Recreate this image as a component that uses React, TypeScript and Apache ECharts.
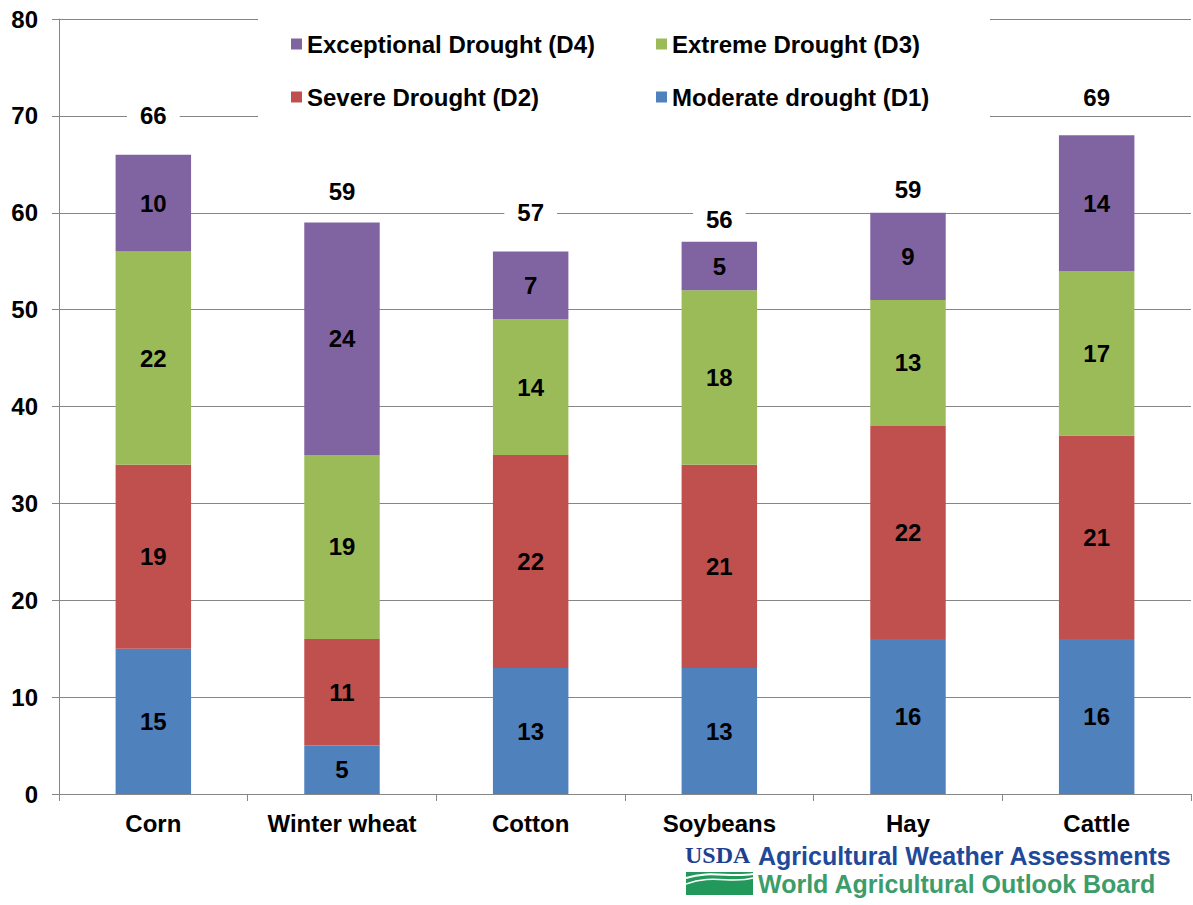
import React, { useEffect, useRef } from "react";
import * as echarts from "echarts";

const categories = ["Corn", "Winter wheat", "Cotton", "Soybeans", "Hay", "Cattle"];
const moderateD1 = [15, 5, 13, 13, 16, 16];
const severeD2 = [19, 11, 22, 21, 22, 21];
const extremeD3 = [22, 19, 14, 18, 13, 17];
const exceptionalD4 = [10, 24, 7, 5, 9, 14];
const totals = [66, 59, 57, 56, 59, 69];
const totalLabelLevel = [70, 62.2, 60, 59.3, 62.4, 71.9];

const seriesNames = {
  d1: "Moderate drought (D1)",
  d2: "Severe Drought (D2)",
  d3: "Extreme Drought (D3)",
  d4: "Exceptional Drought (D4)",
};

const FONT = 'Arial, "Liberation Sans", Helvetica, sans-serif';

export default function App() {
  const ref = useRef<HTMLDivElement>(null);

  useEffect(() => {
    if (!ref.current) return;
    const chart = echarts.init(ref.current, undefined, { renderer: "svg" });

    const segLabel = {
      show: true,
      position: "inside",
      fontFamily: FONT,
      fontSize: 24,
      fontWeight: "bold",
      color: "#000",
      textBorderWidth: 0,
    };

    const mkBar = (name: string, data: number[], color: string) => ({
      name,
      type: "bar",
      stack: "total",
      data,
      barWidth: "40%",
      itemStyle: { color },
      label: segLabel,
    });

    const legendText = {
      fontFamily: FONT,
      fontSize: 24,
      fontWeight: "bold",
      color: "#000",
    };

    const option: any = {
      animation: false,
      backgroundColor: "#ffffff",
      grid: { left: 59, right: 2, top: 19, bottom: 111, containLabel: false },
      xAxis: {
        type: "category",
        data: categories,
        boundaryGap: true,
        axisLine: { show: true, lineStyle: { color: "#868686", width: 1 } },
        axisTick: { show: true, length: 7, alignWithLabel: false, lineStyle: { color: "#868686" } },
        axisLabel: {
          interval: 0,
          margin: 17,
          fontFamily: FONT,
          fontSize: 24,
          fontWeight: "bold",
          color: "#000",
        },
      },
      yAxis: {
        type: "value",
        min: 0,
        max: 80,
        interval: 10,
        axisLine: { show: true, lineStyle: { color: "#868686", width: 1 } },
        axisTick: { show: true, length: 7, inside: false, lineStyle: { color: "#868686" } },
        axisLabel: {
          margin: 21,
          fontFamily: FONT,
          fontSize: 24,
          fontWeight: "bold",
          color: "#000",
        },
        splitLine: { show: true, lineStyle: { color: "#868686", width: 1 } },
      },
      legend: [
        {
          orient: "vertical",
          left: 291,
          top: 32,
          padding: 0,
          itemWidth: 11,
          itemHeight: 11,
          itemGap: 29,
          icon: "rect",
          data: [seriesNames.d4, seriesNames.d2],
          textStyle: legendText,
        },
        {
          orient: "vertical",
          left: 656,
          top: 32,
          padding: 0,
          itemWidth: 11,
          itemHeight: 11,
          itemGap: 29,
          icon: "rect",
          data: [seriesNames.d3, seriesNames.d1],
          textStyle: legendText,
        },
      ],
      graphic: [
        {
          type: "rect",
          z: 3,
          shape: { x: 258, y: 0, width: 732, height: 126 },
          style: { fill: "#ffffff" },
          silent: true,
        },
        {
          type: "text",
          z: 5,
          left: 685,
          top: 843,
          style: {
            text: "USDA",
            fontFamily: '"Liberation Serif", "Times New Roman", serif',
            fontSize: 24,
            fontWeight: "bold",
            fill: "#1F3F8F",
          },
        },
        {
          type: "group",
          z: 5,
          children: [
            {
              type: "rect",
              shape: { x: 686, y: 872, width: 67, height: 23 },
              style: { fill: "#22985A" },
            },
            {
              type: "bezierCurve",
              shape: { x1: 686, y1: 878, x2: 753, y2: 874, cpx1: 710, cpy1: 870, cpx2: 730, cpy2: 878 },
              style: { stroke: "#ffffff", lineWidth: 2, fill: "none" },
            },
            {
              type: "bezierCurve",
              shape: { x1: 686, y1: 884, x2: 753, y2: 878, cpx1: 712, cpy1: 874, cpx2: 732, cpy2: 884 },
              style: { stroke: "#ffffff", lineWidth: 1.5, fill: "none" },
            },
          ],
        },
        {
          type: "text",
          z: 5,
          left: 758,
          top: 843,
          style: {
            text: "Agricultural Weather Assessments",
            fontFamily: FONT,
            fontSize: 25,
            fontWeight: "bold",
            fill: "#1F4A9A",
          },
        },
        {
          type: "text",
          z: 5,
          left: 758,
          top: 871,
          style: {
            text: "World Agricultural Outlook Board",
            fontFamily: FONT,
            fontSize: 25,
            fontWeight: "bold",
            fill: "#3C9D6B",
          },
        },
      ],
      series: [
        mkBar(seriesNames.d1, moderateD1, "#4F81BD"),
        mkBar(seriesNames.d2, severeD2, "#C0504D"),
        mkBar(seriesNames.d3, extremeD3, "#9BBB59"),
        mkBar(seriesNames.d4, exceptionalD4, "#8064A2"),
        {
          name: "Total",
          type: "scatter",
          data: totalLabelLevel,
          symbol: "circle",
          symbolSize: 0,
          itemStyle: { color: "#ffffff", opacity: 1 },
          z: 6,
          label: {
            show: true,
            position: "inside",
            formatter: (p: any) => String(totals[p.dataIndex]),
            fontFamily: FONT,
            fontSize: 24,
            fontWeight: "bold",
            color: "#000000",
            opacity: 1,
            textBorderWidth: 0,
            backgroundColor: "#ffffff",
            padding: [2, 13],
          },
          emphasis: { disabled: true },
          silent: true,
        },
      ],
    };

    chart.setOption(option);
    return () => chart.dispose();
  }, []);

  return (
    <div
      ref={ref}
      style={{ position: "absolute", left: 0, top: 0, width: 1193, height: 905, background: "#fff" }}
    />
  );
}
